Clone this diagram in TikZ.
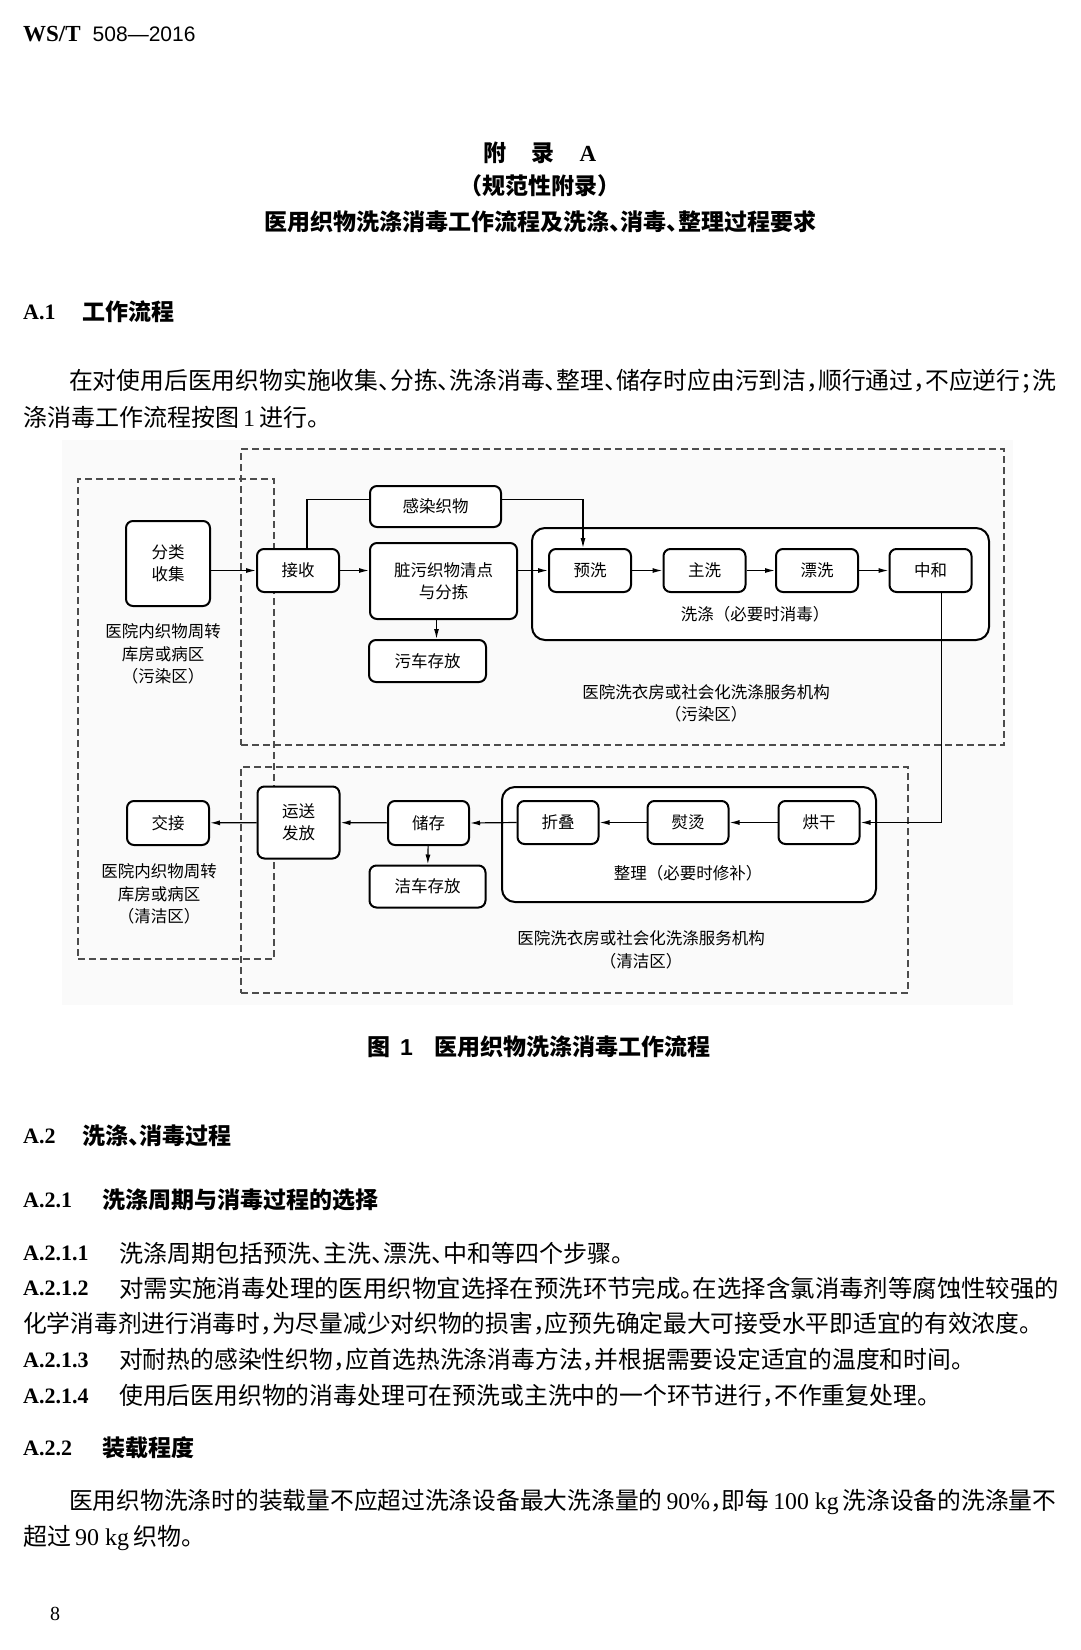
\documentclass[tikz,border=0pt]{standalone}
\usepackage{fontspec}
\usepackage{graphicx}
\setmainfont{Liberation Serif}
\setsansfont{Liberation Sans}
\newfontfamily\zh{Noto Sans CJK SC}[RawFeature=+halt]
\newfontfamily\zhd{Noto Sans CJK SC}
\usetikzlibrary{arrows.meta,positioning,calc}

\begin{document}
\begin{tikzpicture}[x=1pt, y=-1pt,
  txt/.style={anchor=west, inner sep=0pt, font=\zh\fontsize{24pt}{28pt}\selectfont},
  head/.style={anchor=west, inner sep=0pt, font=\zh\bfseries\fontsize{23pt}{28pt}\selectfont},
  num/.style={anchor=west, inner sep=0pt, font=\rmfamily\bfseries\fontsize{22pt}{26pt}\selectfont},
  proc/.style={draw, fill=white, rounded corners=7pt, line width=2pt, minimum width=82pt, minimum height=43pt, inner sep=0pt, align=center, font=\zhd\fontsize{16.5pt}{22pt}\selectfont},
  group/.style={draw, fill=white, rounded corners=13pt, line width=2pt, inner sep=0pt},
  zone/.style={draw=black!70, dash pattern=on 7pt off 4pt, line width=1.3pt, inner sep=0pt},
  lbl/.style={inner sep=0pt, align=center, font=\zhd\fontsize{16.5pt}{22.5pt}\selectfont},
  flow/.style={-{Latex[length=10pt,width=5pt]}, line width=1.2pt}]

\useasboundingbox (0,0) rectangle (1080,1650);
\fill[white] (0,0) rectangle (1080,1650);

% page head and titles
\node[anchor=west, inner sep=0pt] (stdno) at (23,34) {{\fontsize{23pt}{26pt}\selectfont\bfseries WS/T}\hspace{12pt}{\fontsize{21pt}{26pt}\selectfont\sffamily 508—2016}};
\node[head, anchor=center] (annex) at (540,153) {附\hspace{25pt}录\hspace{25pt}{\rmfamily A}};
\node[head, anchor=center] (annextype) at (540,186) {（规范性附录）};
\node[head, anchor=center] (annextitle) at (540,222) {医用织物洗涤消毒工作流程及洗涤、消毒、整理过程要求};

% A.1
\node[num] (a1no) at (23,312) {A.1};
\node[head] (a1) at (82,312) {工作流程};
\node[txt] (intro1) at (69,381) {\resizebox{987pt}{\height}{在对使用后医用织物实施收集、分拣、洗涤消毒、整理、储存时应由污到洁，顺行通过，不应逆行；洗}};
\node[txt] (intro2) at (23,417) {涤消毒工作流程按图{\rmfamily\,1\,}进行。};

% figure background
\fill[black!2] (62,440) rectangle (1013,1005);

% zones
\node[zone, minimum width=763pt, minimum height=296pt] (dirtylaundry) at (622.5,597) {};
\node[zone, minimum width=667pt, minimum height=226pt] (cleanlaundry) at (574.5,880) {};
\node[zone, minimum width=196pt, minimum height=480pt] (ward) at (176,719) {};

% groups
\node[group, minimum width=457pt, minimum height=112pt] (washing) at (760.5,584) {};
\node[group, minimum width=374pt, minimum height=115pt] (finishing) at (689,844.5) {};

% dirty side
\node[proc, minimum width=84pt, minimum height=85pt] (fenlei) at (168,563.5) {分类\\收集};
\node[proc] (jieshou) at (298,570.5) {接收};
\node[proc, minimum width=131pt, minimum height=41pt] (ganran) at (435.5,506.5) {感染织物};
\node[proc, minimum width=147pt, minimum height=76pt] (zangwu) at (443.5,581) {脏污织物清点\\与分拣};
\node[proc, minimum width=117pt, minimum height=42pt] (wuche) at (427.5,661) {污车存放};
\node[proc] (yuxi) at (590,570.5) {预洗};
\node[proc] (zhuxi) at (704.5,570.5) {主洗};
\node[proc] (piaoxi) at (817,570.5) {漂洗};
\node[proc] (zhonghe) at (930.5,570.5) {中和};

% clean side
\node[proc, minimum height=44pt] (jiaojie) at (168,823) {交接};
\node[proc, minimum height=72pt] (yunsong) at (298.5,822.5) {运送\\发放};
\node[proc, minimum width=81pt, minimum height=44pt] (chucun) at (428.5,823) {储存};
\node[proc, minimum width=116pt, minimum height=42pt] (jieche) at (427.5,886.5) {洁车存放};
\node[proc, minimum width=81pt] (zhedie) at (558,822.5) {折叠};
\node[proc, minimum width=81pt] (yuntang) at (688,822.5) {熨烫};
\node[proc, minimum width=81pt] (honggan) at (819,822.5) {烘干};

% area labels
\node[lbl] (wardname) at (163,654) {医院内织物周转\\库房或病区\\（污染区）};
\node[lbl] (washname) at (755,614) {洗涤（必要时消毒）};
\node[lbl] (dirtyname) at (706,703.5) {医院洗衣房或社会化洗涤服务机构\\（污染区）};
\node[lbl] (wardname2) at (159,894) {医院内织物周转\\库房或病区\\（清洁区）};
\node[lbl] (finishname) at (688,873) {整理（必要时修补）};
\node[lbl] (cleanname) at (641,950) {医院洗衣房或社会化洗涤服务机构\\（清洁区）};

% connectors
\draw[flow] (fenlei.east |- jieshou.west) -- (jieshou.west);
\draw[flow] (jieshou.east) -- (jieshou.east -| zangwu.west);
\draw[line width=1.2pt] ([xshift=9pt]jieshou.north) |- ([yshift=7pt]ganran.west);
\draw[flow] ([yshift=7pt]ganran.east) -| ([xshift=-7pt]yuxi.north);
\draw[flow] ([xshift=-7pt]zangwu.south) -- ([xshift=-7pt]zangwu.south |- wuche.north);
\draw[flow] (zangwu.east |- yuxi.west) -- (yuxi.west);
\draw[flow] (yuxi) -- (zhuxi);
\draw[flow] (zhuxi) -- (piaoxi);
\draw[flow] (piaoxi) -- (zhonghe);
\draw[flow] ([xshift=11pt]zhonghe.south) |- (honggan.east);
\draw[flow] (honggan) -- (yuntang);
\draw[flow] (yuntang) -- (zhedie);
\draw[flow] (zhedie.west) -- (chucun.east);
\draw[flow] (chucun) -- (yunsong);
\draw[flow] (yunsong) -- (jiaojie);
\draw[flow] (chucun) -- (jieche);

% caption
\node[head] (caption) at (367,1047) {图\hspace{10pt}{\sffamily 1}\hspace{22pt}医用织物洗涤消毒工作流程};

% A.2
\node[num] (a2no) at (23,1136) {A.2};
\node[head] (a2) at (82,1136) {洗涤、消毒过程};
\node[num] (a21no) at (23,1200) {A.2.1};
\node[head] (a21) at (102,1200) {洗涤周期与消毒过程的选择};
\node[num] (a211no) at (23,1253) {A.2.1.1};
\node[txt] (a211) at (119,1253) {洗涤周期包括预洗、主洗、漂洗、中和等四个步骤。};
\node[num] (a212no) at (23,1288) {A.2.1.2};
\node[txt] (a212) at (119,1288) {\resizebox{940pt}{\height}{对需实施消毒处理的医用织物宜选择在预洗环节完成。在选择含氯消毒剂等腐蚀性较强的}};
\node[txt] (a212b) at (23,1324) {\resizebox{1008pt}{\height}{化学消毒剂进行消毒时，为尽量减少对织物的损害，应预先确定最大可接受水平即适宜的有效浓度。}};
\node[num] (a213no) at (23,1360) {A.2.1.3};
\node[txt] (a213) at (119,1360) {\resizebox{844pt}{\height}{对耐热的感染性织物，应首选热洗涤消毒方法，并根据需要设定适宜的温度和时间。}};
\node[num] (a214no) at (23,1396) {A.2.1.4};
\node[txt] (a214) at (119,1396) {\resizebox{810pt}{\height}{使用后医用织物的消毒处理可在预洗或主洗中的一个环节进行，不作重复处理。}};

% A.2.2
\node[num] (a22no) at (23,1448) {A.2.2};
\node[head] (a22) at (102,1448) {装载程度};
\node[txt] (load1) at (69,1502) {\resizebox{987pt}{\height}{医用织物洗涤时的装载量不应超过洗涤设备最大洗涤量的{\rmfamily\,90\%}，即每{\rmfamily\,100 kg\,}洗涤设备的洗涤量不}};
\node[txt] (load2) at (23,1538) {超过{\rmfamily\,90 kg\,}织物。};

\node[inner sep=0pt, font=\fontsize{20pt}{24pt}\selectfont] (pageno) at (55,1614) {8};

\end{tikzpicture}
\end{document}
